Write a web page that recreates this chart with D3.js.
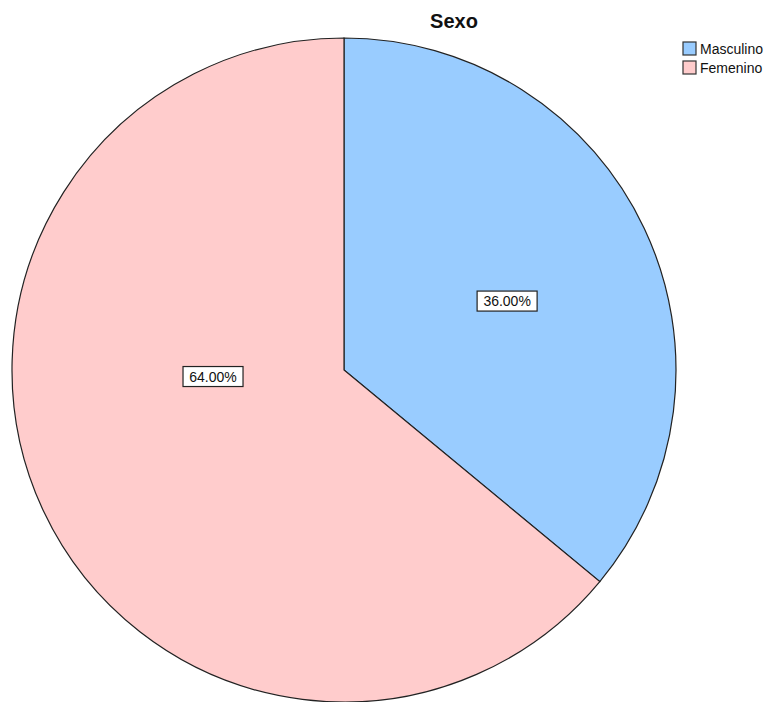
<!DOCTYPE html>
<html><head><meta charset="utf-8">
<script src="https://cdn.jsdelivr.net/npm/d3@7"></script>
<style>body{margin:0;background:#fff}svg{display:block}</style>
</head><body>
<script>
const title = "Sexo";
const categories = ["Masculino", "Femenino"];
const values = [36.00, 64.00];
const colors = ["#99CCFF", "#FFCCCC"];

const W = 773, H = 702;
const cx = 344, cy = 370, R = 332;
const svg = d3.select("body").append("svg").attr("width", W).attr("height", H);

svg.append("text").attr("x", 454).attr("y", 28).attr("text-anchor", "middle")
  .attr("font-family", "Liberation Sans, Arial, sans-serif").attr("font-weight", "bold")
  .attr("font-size", 20).attr("fill", "#111").text(title);

const pie = d3.pie().sort(null).value(d => d)(values);
const arc = d3.arc().innerRadius(0).outerRadius(R);
const g = svg.append("g").attr("transform", `translate(${cx},${cy})`);
g.selectAll("path").data(pie).join("path")
  .attr("d", arc).attr("fill", (d, i) => colors[i])
  .attr("stroke", "#222").attr("stroke-width", 1.2).attr("stroke-linejoin", "miter");

// label placement: sector area centroid for small slice; adjusted for large one
function labelPos(d, i) {
  const span = d.endAngle - d.startAngle;
  let ang = (d.startAngle + d.endAngle) / 2;
  let dist;
  if (span <= Math.PI) {
    const b = span / 2;
    dist = 2 * R * Math.sin(b) / (3 * b);
    ang += 0.04;
  } else {
    ang = ang + 0.39;
    dist = R * 0.395;
  }
  return [dist * Math.sin(ang), -dist * Math.cos(ang)];
}
const lab = g.selectAll("g.lab").data(pie).join("g").attr("class", "lab")
  .attr("transform", (d, i) => { const p = labelPos(d, i); return `translate(${p[0]},${p[1]})`; });
lab.append("rect").attr("x", -30).attr("y", -10).attr("width", 60).attr("height", 20)
  .attr("fill", "#fff").attr("stroke", "#222").attr("stroke-width", 1.2);
lab.append("text").attr("text-anchor", "middle").attr("dy", "0.36em")
  .attr("font-family", "Liberation Sans, Arial, sans-serif").attr("font-size", 14).attr("fill", "#111")
  .text(d => d.data.toFixed(2) + "%");

const leg = svg.append("g").attr("transform", "translate(683,42)");
const items = leg.selectAll("g").data(categories).join("g")
  .attr("transform", (d, i) => `translate(0,${i * 19})`);
items.append("rect").attr("width", 13).attr("height", 13)
  .attr("fill", (d, i) => colors[i]).attr("stroke", "#333").attr("stroke-width", 1.2);
items.append("text").attr("x", 17).attr("y", 7).attr("dy", "0.36em")
  .attr("font-family", "Liberation Sans, Arial, sans-serif").attr("font-size", 14).attr("fill", "#111")
  .text(d => d);
</script>
</body></html>
